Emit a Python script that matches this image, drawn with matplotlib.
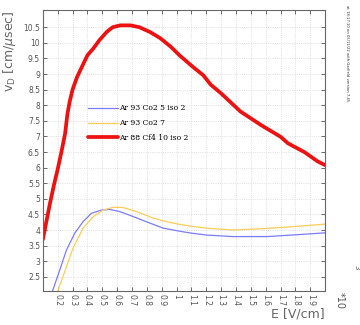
import matplotlib.pyplot as plt

# drift velocity curves, E in kV/cm (axis shows *10^3 V/cm)
e_co2_5 = [0.164, 0.214, 0.259, 0.315, 0.371, 0.428, 0.495, 0.551, 0.619, 0.709, 0.822,
           0.911, 1.024, 1.1, 1.2, 1.38, 1.61, 1.81, 2.0]
v_co2_5 = [2.03, 2.72, 3.36, 3.9, 4.27, 4.54, 4.64, 4.66, 4.59, 4.43, 4.22,
           4.06, 3.96, 3.9, 3.84, 3.79, 3.79, 3.85, 3.91]

e_co2_7 = [0.2, 0.259, 0.303, 0.371, 0.439, 0.506, 0.574, 0.641, 0.732, 0.844, 0.957,
           1.024, 1.1, 1.2, 1.38, 1.565, 1.79, 2.0]
v_co2_7 = [2.03, 2.83, 3.42, 4.06, 4.43, 4.64, 4.73, 4.72, 4.59, 4.38, 4.24,
           4.18, 4.12, 4.06, 4.0, 4.04, 4.11, 4.19]

e_cf4 = [0.1, 0.125, 0.15, 0.175, 0.2, 0.225, 0.25, 0.265, 0.28, 0.3, 0.33, 0.36, 0.4,
         0.44, 0.48, 0.53, 0.57, 0.62, 0.69, 0.75, 0.82, 0.89, 0.96, 1.02, 1.11, 1.18,
         1.23, 1.3, 1.43, 1.57, 1.7, 1.75, 1.86, 1.95, 2.0]
v_cf4 = [3.7, 4.3, 4.9, 5.45, 5.95, 6.5, 7.1, 7.7, 8.1, 8.5, 8.9, 9.2, 9.6,
         9.82, 10.08, 10.35, 10.5, 10.56, 10.56, 10.5, 10.35, 10.15, 9.88, 9.6, 9.23, 8.96,
         8.66, 8.38, 7.8, 7.36, 6.99, 6.78, 6.5, 6.2, 6.08]

labels = ['Ar 93 Co2 5 iso 2', 'Ar 93 Co2 7', 'Ar 88 Cf4 10 iso 2']

xticks = [0.2, 0.3, 0.4, 0.5, 0.6, 0.7, 0.8, 0.9, 1.0, 1.1, 1.2, 1.3, 1.4, 1.5, 1.6, 1.7, 1.8, 1.9]
xticklabels = ['0.2', '0.3', '0.4', '0.5', '0.6', '0.7', '0.8', '0.9', '1', '1.1', '1.2',
               '1.3', '1.4', '1.5', '1.6', '1.7', '1.8', '1.9']
yticks = [2.5, 3, 3.5, 4, 4.5, 5, 5.5, 6, 6.5, 7, 7.5, 8, 8.5, 9, 9.5, 10, 10.5]
yticklabels = ['2.5', '3', '3.5', '4', '4.5', '5', '5.5', '6', '6.5', '7', '7.5', '8',
               '8.5', '9', '9.5', '10', '10.5']

plt.rcParams['mathtext.fontset'] = 'dejavusans'

fig = plt.figure(figsize=(3.6, 3.25), dpi=100)
ax = fig.add_axes([0.119, 0.105, 0.784, 0.864])

ax.plot(e_co2_5, v_co2_5, color='#7b7bff', lw=0.9, label=labels[0])
ax.plot(e_co2_7, v_co2_7, color='#ffcc55', lw=0.9, label=labels[1])
ax.plot(e_cf4, v_cf4, color='#ee1111', lw=2.7, label=labels[2], solid_capstyle='round')

ax.set_xlim(0.1, 2.0)
ax.set_ylim(2.05, 11.05)
ax.set_xticks(xticks)
ax.set_xticklabels(xticklabels, rotation=-90, fontsize=5.5, color='#555555')
ax.set_yticks(yticks)
ax.set_yticklabels(yticklabels, fontsize=5.5, color='#555555')
ax.tick_params(direction='in', top=True, right=True, length=3, width=0.6,
               color='#555555', pad=2)
ax.grid(True, linestyle=':', linewidth=0.5, color='#cccccc')
for s in ax.spines.values():
    s.set_color('#666666')
    s.set_linewidth(0.8)

ax.set_ylabel(r'v$_{\rm D}$ [cm/$\mu$sec]', loc='top', fontsize=9, color='#666666', labelpad=4)
ax.set_xlabel('E [V/cm]', loc='right', fontsize=9, color='#666666', labelpad=1)

fig.text(0.944, 0.10, '*10', rotation=-90, fontsize=7, color='#555555', va='top', ha='center')
fig.text(0.99, 0.185, '3', rotation=-90, fontsize=5, color='#555555', va='top', ha='center')
fig.text(0.965, 0.985, 'at 18:17:10 on 05/11/22 with Garfield version 7.45.', rotation=-90,
         fontsize=2.7, color='#333333', va='top', ha='center')

ax.legend(loc='upper left', bbox_to_anchor=(0.148, 0.675), frameon=False,
          prop={'family': 'DejaVu Serif', 'size': 5.5}, handlelength=4.0,
          handletextpad=0.1, labelspacing=0.9, borderaxespad=0)

fig.savefig('out.png', dpi=100)
